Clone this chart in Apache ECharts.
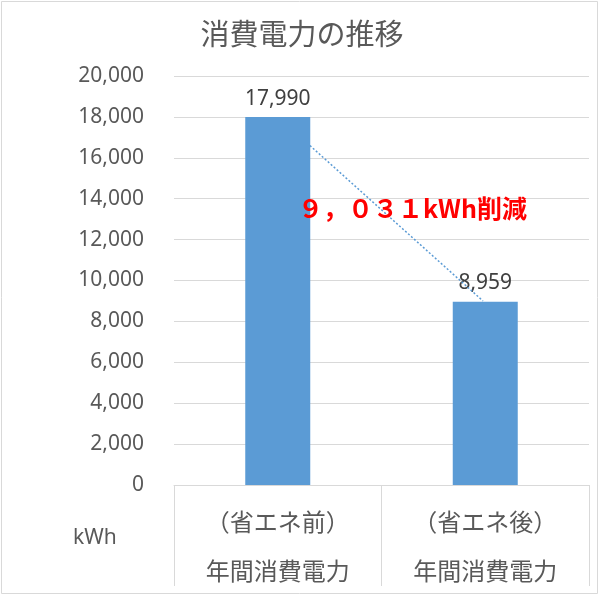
<!DOCTYPE html>
<html><head><meta charset="utf-8">
<script src="https://cdn.jsdelivr.net/npm/echarts@6/dist/echarts.min.js"></script>
<style>html,body{margin:0;padding:0;background:#fff}#c{width:604px;height:595px}</style>
</head><body><div id="c"></div>
<script>
const titleText = '消費電力の推移';
const categories = ['（省エネ前）\n年間消費電力', '（省エネ後）\n年間消費電力'];
const values = [17990, 8959];
const yTicks = [0, 20000, 2000];
const unitLabel = 'kWh';
const noteText = '９，０３１kWh削減';
const connectorX = [0.655, 1.489];
const connectorY = [16600, 9000];

const chart = echarts.init(document.getElementById('c'));
const numFont = '"Noto Sans", "Open Sans", sans-serif';
const jpFont = '"Noto Sans CJK JP", sans-serif';
chart.setOption({
  animation: false,
  backgroundColor: '#fff',
  title: {
    text: titleText, left: 'center', top: 14,
    textStyle: { fontFamily: jpFont, fontSize: 29, fontWeight: 'normal', color: '#595959' }
  },
  grid: { left: 174, right: 15, top: 76, bottom: 108 },
  xAxis: [{
    type: 'category', data: categories,
    axisLine: { show: true, lineStyle: { color: '#D9D9D9', width: 1 } },
    axisTick: { show: true, length: 101, lineStyle: { color: '#D9D9D9', width: 1 } },
    axisLabel: { fontFamily: jpFont, fontSize: 24, color: '#595959', lineHeight: 49, margin: 12 }
  }, {
    type: 'value', min: 0, max: 2, show: false
  }],
  yAxis: {
    type: 'value', min: yTicks[0], max: yTicks[1], interval: yTicks[2],
    axisLine: { show: false }, axisTick: { show: false },
    splitLine: { lineStyle: { color: '#D9D9D9', width: 1 } },
    axisLabel: {
      fontFamily: numFont, fontSize: 21, color: '#595959', margin: 30,
      formatter: v => v.toLocaleString('en-US')
    }
  },
  series: [{
    type: 'bar', data: values, barWidth: 65, xAxisIndex: 0,
    itemStyle: { color: '#5B9BD5' },
    label: {
      show: true, position: 'top', distance: 8,
      fontFamily: numFont, fontSize: 21, color: '#404040',
      formatter: p => p.value.toLocaleString('en-US')
    }
  }, {
    type: 'line', xAxisIndex: 1, symbol: 'none', z: 5,
    data: connectorX.map((x, i) => [x, connectorY[i]]),
    lineStyle: { color: '#5B9BD5', width: 1.5, type: [2, 2] }
  }],
  graphic: [
    { type: 'rect', shape: { x: 1.5, y: 1.5, width: 596, height: 592 }, style: { fill: 'none', stroke: '#D9D9D9', lineWidth: 1 }, silent: true },
    { type: 'text', left: 73, top: 528, style: { text: unitLabel, font: '21px ' + numFont, fill: '#595959' } },
    { type: 'text', left: 298, top: 196, z: 10, style: { text: noteText, font: 'bold 25px ' + jpFont, fill: '#FF0000' } }
  ]
});
</script></body></html>
